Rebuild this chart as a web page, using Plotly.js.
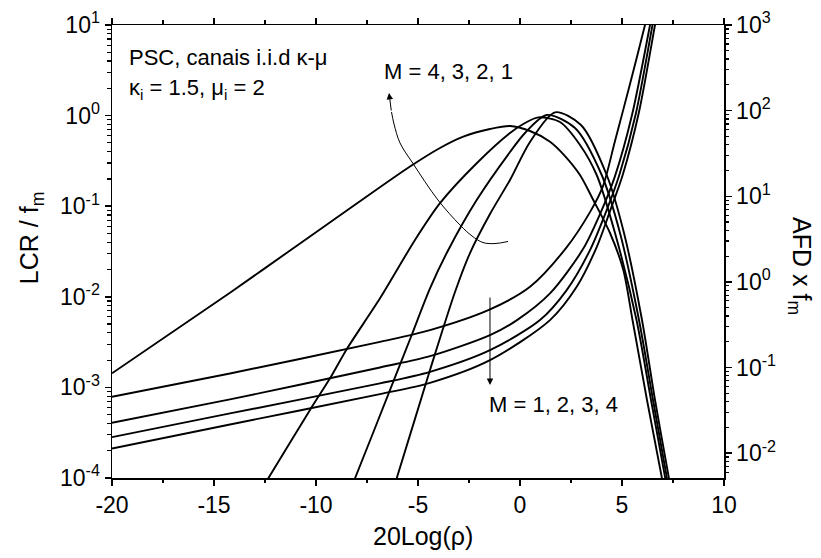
<!DOCTYPE html>
<html><head><meta charset="utf-8">
<script src="https://cdn.plot.ly/plotly-3.0.1.min.js"></script>
<style>html,body{margin:0;padding:0;background:#fff;}#chart{width:821px;height:558px;}</style>
</head><body><div id="chart"></div>
<script>
// ---- LCR / fm curves (left axis), M = 1..4 ----
var lcrM1X = [-20, -14.216, -10.539, -8.333, -5.392, -3.922, -2.779, -1.471, -0.490, 0.490, 1.471, 2.206, 2.941, 3.593, 4.412, 5.064, 5.515, 6.225, 6.946, 7.054];
var lcrM1Y = [1.43e-3, 1.11e-2, 4.24e-2, 9.48e-2, 0.274, 0.439, 0.585, 0.711, 0.767, 0.676, 0.515, 0.358, 0.221, 0.117, 0.0506, 0.0198, 5.55e-3, 7.26e-4, 1.03e-4, 7.4e-5];

var lcrM2X = [-12.696, -12.338, -10.294, -9.314, -8.495, -6.863, -5.147, -3.922, -2.123, -0.490, 0.245, 0.897, 1.961, 2.941, 3.760, 4.657, 5.711, 6.422, 7.108, 7.216];
var lcrM2Y = [7.38e-5, 9.93e-5, 5.64e-4, 1.26e-3, 2.64e-3, 9.62e-3, 4.24e-2, 0.108, 0.298, 0.643, 0.828, 0.957, 0.849, 0.474, 0.221, 0.0506, 5.55e-3, 7.26e-4, 1.03e-4, 7.38e-5];

var lcrM3X = [-8.333, -8.088, -6.211, -5.309, -4.412, -3.515, -2.123, -0.490, 0.245, 1.309, 2.696, 4.005, 4.902, 5.833, 6.520, 7.191, 7.299];
var lcrM3Y = [7.38e-5, 9.93e-5, 1.156e-3, 3.79e-3, 1.24e-2, 3.29e-2, 0.117, 0.396, 0.643, 1.016, 0.730, 0.221, 0.0506, 5.55e-3, 7.26e-4, 1.03e-4, 7.38e-5];

var lcrM4X = [-6.240, -6.044, -4.412, -3.186, -2.451, -1.471, -0.490, 0.490, 1.716, 2.990, 4.250, 5.098, 5.980, 6.618, 7.289, 7.397];
var lcrM4Y = [7.38e-5, 9.93e-5, 1.556e-3, 1.13e-2, 3.04e-2, 8.20e-2, 0.195, 0.512, 1.087, 0.787, 0.221, 0.0506, 5.55e-3, 7.26e-4, 1.03e-4, 7.38e-5];

// ---- AFD x fm curves (right axis), M = 1..4 ----
var afdM1X = [-20, -14.216, -6.863, -4.412, -1.471, 0.490, 2.255, 3.431, 4.069, 4.657, 5.392, 6.127, 6.324];
var afdM1Y = [0.0455, 0.0853, 0.1995, 0.2735, 0.4775, 0.877, 2.48, 6.53, 13.15, 44.2, 204.6, 1000, 1580];

var afdM2X = [-20, -14.216, -6.863, -4.412, -1.471, -0.147, 1.471, 3.088, 3.922, 4.657, 5.490, 6.373, 6.471];
var afdM2Y = [0.0226, 0.0424, 0.1002, 0.1358, 0.2393, 0.358, 0.734, 2.415, 6.19, 17.2, 88.8, 1000, 1344];

var afdM3X = [-20, -14.216, -6.863, -4.412, -1.471, 0.980, 2.289, 3.431, 4.250, 4.868, 5.686, 6.495, 6.618];
var afdM3Y = [0.01538, 0.0291, 0.0652, 0.0891, 0.1596, 0.358, 0.802, 2.35, 6.90, 17.7, 93.8, 1000, 1419];

var afdM4X = [-20, -14.216, -6.863, -4.412, -1.471, 1.471, 2.779, 3.760, 4.412, 5.034, 5.833, 6.618, 6.740];
var afdM4Y = [0.01135, 0.02163, 0.0489, 0.0662, 0.1219, 0.358, 0.877, 2.55, 6.71, 17.7, 96.3, 1000, 1419];

// ---- curved annotation arrow (left axis units) ----
var arrowCurveX = [-6.299, -6.176, -5.882, -5.245, -4.020, -2.941, -2.353, -1.814, -1.225, -0.588];
var arrowCurveY = [1.096, 0.808, 0.499, 0.296, 0.117, 0.0620, 0.0469, 0.0397, 0.0387, 0.0408];

// ---- ticks ----
var xTickVals = [-20, -15, -10, -5, 0, 5, 10];
var xTickText = ['-20', '-15', '-10', '-5', '0', '5', '10'];
var xMinorVals = [-17.5, -12.5, -7.5, -2.5, 2.5, 7.5];
var yTickVals = [1e-4, 1e-3, 1e-2, 1e-1, 1, 10];
var yTickText = ['10<sup>-4</sup>', '10<sup>-3</sup>', '10<sup>-2</sup>', '10<sup>-1</sup>', '10<sup>0</sup>', '10<sup>1</sup>'];
var y2TickVals = [1e-2, 1e-1, 1, 10, 100, 1000];
var y2TickText = ['10<sup>-2</sup>', '10<sup>-1</sup>', '10<sup>0</sup>', '10<sup>1</sup>', '10<sup>2</sup>', '10<sup>3</sup>'];

var yMinor = [];
for (var k = -4; k <= 0; k++) for (var m = 2; m <= 9; m++) yMinor.push(m * Math.pow(10, k));
var y2Minor = [];
for (var k2 = -3; k2 <= 2; k2++) for (var m2 = 2; m2 <= 9; m2++) {
  var v = m2 * Math.pow(10, k2);
  if (v > 0.0052) y2Minor.push(v);
}

var lineStyle = {color: '#000', width: 1.9, shape: 'spline', smoothing: 0.8};
function tr(x, y, ax) {
  return {x: x, y: y, type: 'scatter', mode: 'lines', line: lineStyle, yaxis: ax, hoverinfo: 'skip', showlegend: false};
}
var data = [
  tr(lcrM1X, lcrM1Y, 'y'), tr(lcrM2X, lcrM2Y, 'y'), tr(lcrM3X, lcrM3Y, 'y'), tr(lcrM4X, lcrM4Y, 'y'),
  tr(afdM1X, afdM1Y, 'y2'), tr(afdM2X, afdM2Y, 'y2'), tr(afdM3X, afdM3Y, 'y2'), tr(afdM4X, afdM4Y, 'y2'),
  {x: arrowCurveX, y: arrowCurveY, type: 'scatter', mode: 'lines', line: {color: '#000', width: 1, shape: 'spline', smoothing: 1}, hoverinfo: 'skip', showlegend: false}
];

var FONT = 'Liberation Sans, Arial, Helvetica, sans-serif';
var axisCommon = {
  showline: true, linewidth: 1.5, linecolor: '#000', ticks: 'outside', ticklen: 6, tickwidth: 1.5,
  tickcolor: '#000', showgrid: false, zeroline: false, tickfont: {size: 23, family: FONT, color: '#000'}
};
function merge(a, b) { var o = {}; for (var p in a) o[p] = a[p]; for (var q in b) o[q] = b[q]; return o; }

var layout = {
  width: 821, height: 558,
  margin: {l: 112, r: 97, t: 25, b: 80},
  paper_bgcolor: '#fff', plot_bgcolor: '#fff',
  font: {family: FONT, color: '#000', size: 22},
  showlegend: false,
  xaxis: merge(axisCommon, {
    range: [-20, 10], tickmode: 'array', tickvals: xTickVals, ticktext: xTickText, mirror: 'ticks',
    minor: {tickmode: 'array', tickvals: xMinorVals, ticks: 'outside', ticklen: 3.5, tickwidth: 1.5, tickcolor: '#000', showgrid: false}
  }),
  yaxis: merge(axisCommon, {
    type: 'log', range: [-4, 1], tickmode: 'array', tickvals: yTickVals, ticktext: yTickText,
    minor: {tickmode: 'array', tickvals: yMinor, ticks: 'outside', ticklen: 3.5, tickwidth: 1.2, tickcolor: '#000', showgrid: false}
  }),
  yaxis2: merge(axisCommon, {
    type: 'log', range: [-2.29, 3], overlaying: 'y', side: 'right', tickmode: 'array', tickvals: y2TickVals, ticktext: y2TickText,
    minor: {tickmode: 'array', tickvals: y2Minor, ticks: 'outside', ticklen: 3.5, tickwidth: 1.2, tickcolor: '#000', showgrid: false}
  }),
  annotations: [
    {xref: 'paper', yref: 'paper', x: 0.508, y: -0.128, text: '20Log(ρ)', showarrow: false, xanchor: 'center', yanchor: 'middle', font: {size: 25}},
    {xref: 'paper', yref: 'paper', x: -0.132, y: 0.53, text: 'LCR / f<sub>m</sub>', textangle: -90, showarrow: false, xanchor: 'center', yanchor: 'middle', font: {size: 25}},
    {xref: 'paper', yref: 'paper', x: 1.124, y: 0.468, text: 'AFD x f<sub>m</sub>', textangle: 90, showarrow: false, xanchor: 'center', yanchor: 'middle', font: {size: 25}},
    {xref: 'x', yref: 'y', x: -19.25, y: 0.641, text: 'PSC, canais i.i.d κ-μ', showarrow: false, xanchor: 'left', yanchor: 'middle'},
    {xref: 'x', yref: 'y', x: -19.25, y: 0.294, text: 'κ<sub>i</sub> = 1.5, μ<sub>i</sub> = 2', showarrow: false, xanchor: 'left', yanchor: 'middle'},
    {xref: 'x', yref: 'y', x: -6.75, y: 0.492, text: 'M = 4, 3, 2, 1', showarrow: false, xanchor: 'left', yanchor: 'middle'},
    {xref: 'x', yref: 'y', x: -1.60, y: -3.194, text: 'M = 1, 2, 3, 4', showarrow: false, xanchor: 'left', yanchor: 'middle'},
    {xref: 'x', yref: 'y', x: -6.422, y: 0.2494, text: '', showarrow: true, ax: 2.5, ay: 19, arrowhead: 2, arrowsize: 1.3, arrowwidth: 1, arrowcolor: '#000'},
    {xref: 'x', yref: 'y', x: -1.471, y: -2.974, text: '', showarrow: true, ax: 0, ay: -89, arrowhead: 2, arrowsize: 1.3, arrowwidth: 1, arrowcolor: '#000'}
  ]
};

Plotly.newPlot('chart', data, layout, {displayModeBar: false, staticPlot: true});
</script>
</body></html>
